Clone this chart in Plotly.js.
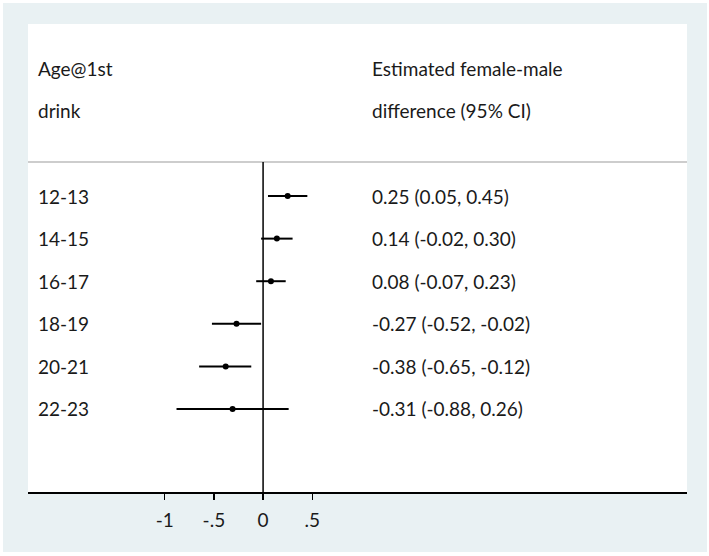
<!DOCTYPE html>
<html>
<head>
<meta charset="utf-8">
<script src="https://cdn.plot.ly/plotly-3.0.1.min.js"></script>
<style>
  html, body { margin: 0; padding: 0; background: #ffffff; }
  #chart { position: absolute; left: 3px; top: 3px; width: 704px; height: 549px; }
</style>
</head>
<body>
<div id="chart"></div>
<script>
// Data
const ageGroups = ["12-13", "14-15", "16-17", "18-19", "20-21", "22-23"];
const estimates = [0.25, 0.14, 0.08, -0.27, -0.38, -0.31];
const lowerCI   = [0.05, -0.02, -0.07, -0.52, -0.65, -0.88];
const upperCI   = [0.45, 0.30, 0.23, -0.02, -0.12, 0.26];
const ciLabels  = ["0.25 (0.05, 0.45)", "0.14 (-0.02, 0.30)", "0.08 (-0.07, 0.23)",
                   "-0.27 (-0.52, -0.02)", "-0.38 (-0.65, -0.12)", "-0.31 (-0.88, 0.26)"];
const headerLeft  = ["Age@1st", "drink"];
const headerRight = ["Estimated female-male", "difference (95% CI)"];
const tickVals  = [-1, -0.5, 0, 0.5];
const tickText  = ["-1", "-.5", "0", ".5"];

const rows = ageGroups.map((_, i) => i + 1);
const headerRows = [-2, -1];

const FONT = "Lato, 'Open Sans', sans-serif";
const FS = 19;
const TXT = "#1a1a1a";
const leftX = -2.31;
const rightX = 1.09;

const trace = {
  type: "scatter",
  mode: "markers",
  x: estimates,
  y: rows,
  marker: { color: "#000000", size: 6 },
  error_x: {
    type: "data",
    symmetric: false,
    array: estimates.map((e, i) => upperCI[i] - e),
    arrayminus: estimates.map((e, i) => e - lowerCI[i]),
    width: 0,
    thickness: 2,
    color: "#000000"
  },
  hoverinfo: "skip",
  showlegend: false
};

const annotations = [];
function addText(x, y, t) {
  annotations.push({ x: x, y: y, xref: "x", yref: "y", text: t, showarrow: false,
    xanchor: "left", yanchor: "middle", font: { family: FONT, size: FS, color: TXT } });
}
ageGroups.forEach((g, i) => { addText(leftX, rows[i], g); addText(rightX, rows[i], ciLabels[i]); });
headerLeft.forEach((t, i) => addText(leftX, headerRows[i], t));
headerRight.forEach((t, i) => addText(rightX, headerRows[i], t));

const sepY = 0.2;
const yRange = [7.95, -3.04];

const layout = {
  width: 704,
  height: 549,
  margin: { l: 25, r: 20, t: 21, b: 60 },
  paper_bgcolor: "#e9f1f3",
  plot_bgcolor: "#ffffff",
  showlegend: false,
  xaxis: {
    range: [-2.39, 4.31],
    showgrid: false,
    zeroline: false,
    showline: true,
    linecolor: "#000000",
    linewidth: 1.5,
    ticks: "outside",
    ticklen: 6,
    tickwidth: 1.2,
    tickcolor: "#000000",
    tickvals: tickVals,
    ticktext: tickText,
    ticklabelstandoff: 5,
    tickfont: { family: FONT, size: FS, color: TXT },
    fixedrange: true
  },
  yaxis: {
    range: yRange,
    showgrid: false,
    zeroline: false,
    showline: false,
    showticklabels: false,
    ticks: "",
    fixedrange: true
  },
  shapes: [
    { type: "line", xref: "paper", yref: "y", x0: 0, x1: 1, y0: sepY, y1: sepY,
      line: { color: "#bdbdbd", width: 1.5 } },
    { type: "line", xref: "x", yref: "y", x0: 0, x1: 0, y0: sepY, y1: yRange[0],
      line: { color: "#000000", width: 1.5 } }
  ],
  annotations: annotations
};

Plotly.newPlot("chart", [trace], layout, { displayModeBar: false, staticPlot: true });
</script>
</body>
</html>
